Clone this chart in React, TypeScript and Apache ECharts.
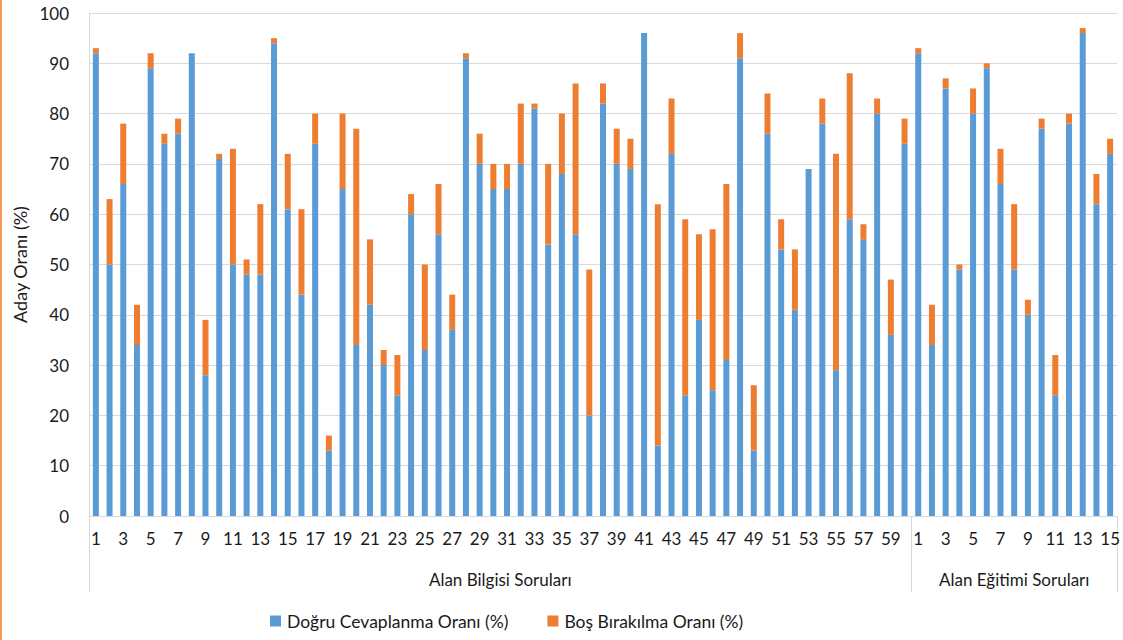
import React, { useEffect, useRef } from "react";
import * as echarts from "echarts";

const bilgisiLabels = Array.from({ length: 60 }, (_, i) => "A" + (i + 1));
const egitimiLabels = Array.from({ length: 15 }, (_, i) => "E" + (i + 1));

const dogruBilgisi = [
  92, 50, 66, 34, 89, 74, 76, 92, 28, 71, 50, 48, 48, 94, 61, 44, 74, 13, 65, 34,
  42, 30, 24, 60, 33, 56, 37, 91, 70, 65, 65, 70, 81, 54, 68, 56, 20, 82, 70, 69,
  96, 14, 72, 24, 39, 25, 31, 91, 13, 76, 53, 41, 69, 78, 29, 59, 55, 80, 36, 74,
];
const bosBilgisi = [
  1, 13, 12, 8, 3, 2, 3, 0, 11, 1, 23, 3, 14, 1, 11, 17, 6, 3, 15, 43,
  13, 3, 8, 4, 17, 10, 7, 1, 6, 5, 5, 12, 1, 16, 12, 30, 29, 4, 7, 6,
  0, 48, 11, 35, 17, 32, 35, 5, 13, 8, 6, 12, 0, 5, 43, 29, 3, 3, 11, 5,
];
const dogruEgitimi = [92, 34, 85, 49, 80, 89, 66, 49, 40, 77, 24, 78, 96, 62, 72];
const bosEgitimi = [1, 8, 2, 1, 5, 1, 7, 13, 3, 2, 8, 2, 1, 6, 3];

const groupNames = ["Alan Bilgisi Soruları", "Alan Eğitimi Soruları"];
const seriesNames = ["Doğru Cevaplanma Oranı (%)", "Boş Bırakılma Oranı (%)"];
const yTicks = [0, 10, 20, 30, 40, 50, 60, 70, 80, 90, 100];

export default function App() {
  const ref = useRef<HTMLDivElement>(null);
  useEffect(() => {
    if (!ref.current) return;
    const chart = echarts.init(ref.current, null, { renderer: "svg" });
    const categories = [...bilgisiLabels, ...egitimiLabels];
    const n1 = bilgisiLabels.length;
    const total = categories.length;
    const font = "Lato, 'Open Sans', sans-serif";
    const gray = "#d9d9d9";
    const ink = "#1a1a1a";
    chart.setOption({
      animation: false,
      textStyle: { fontFamily: font },
      grid: { left: 89, right: 6, top: 13, bottom: 124, containLabel: false },
      legend: {
        left: 265,
        top: 607,
        itemWidth: 11,
        itemHeight: 11,
        itemGap: 39,
        icon: "rect",
        textStyle: { fontFamily: font, fontSize: 17.5, color: ink, padding: [0, 0, 0, 1] },
        data: seriesNames,
      },
      xAxis: [
        {
          type: "category",
          data: categories,
          boundaryGap: true,
          axisLine: { show: true, lineStyle: { color: gray, width: 1 } },
          axisTick: { show: false },
          axisLabel: {
            interval: 1,
            margin: 14,
            fontSize: 17,
            color: ink,
            fontFamily: font,
            formatter: (v: string) => v.slice(1),
          },
          splitLine: { show: false },
        },
        {
          type: "value",
          min: 0,
          max: total,
          position: "bottom",
          axisLine: { show: false },
          splitLine: { show: false },
          axisTick: {
            show: true,
            length: 76,
            customValues: [0, n1, total],
            lineStyle: { color: gray, width: 1 },
          },
          axisLabel: {
            show: true,
            margin: 55,
            fontSize: 17,
            color: ink,
            fontFamily: font,
            customValues: [n1 / 2, (n1 + total) / 2],
            formatter: (v: number) => (v < n1 ? groupNames[0] : groupNames[1]),
          },
        },
      ],
      yAxis: {
        type: "value",
        min: 0,
        max: 100,
        interval: 10,
        name: "Aday Oranı (%)",
        nameLocation: "middle",
        nameGap: 54,
        nameTextStyle: { fontSize: 18, color: ink, fontFamily: font },
        axisLine: { show: true, lineStyle: { color: gray } },
        axisTick: { show: false },
        axisLabel: {
          margin: 20,
          fontSize: 17,
          color: ink,
          fontFamily: font,
          customValues: yTicks,
        },
        splitLine: { show: true, lineStyle: { color: gray, width: 1 } },
      },
      series: [
        {
          name: seriesNames[0],
          type: "bar",
          stack: "t",
          barWidth: 6,
          itemStyle: { color: "#5b9bd5" },
          data: [...dogruBilgisi, ...dogruEgitimi],
        },
        {
          name: seriesNames[1],
          type: "bar",
          stack: "t",
          barWidth: 6,
          itemStyle: { color: "#ed7d31" },
          data: [...bosBilgisi, ...bosEgitimi],
        },
      ],
      graphic: [
        {
          type: "rect",
          left: 0,
          top: 0,
          shape: { width: 2, height: 640 },
          style: { fill: "#f39a55" },
          silent: true,
        },
      ],
    });
    return () => chart.dispose();
  }, []);
  return (
    <div
      ref={ref}
      style={{ position: "absolute", left: 0, top: 0, width: 1123, height: 640, background: "#fff" }}
    />
  );
}
